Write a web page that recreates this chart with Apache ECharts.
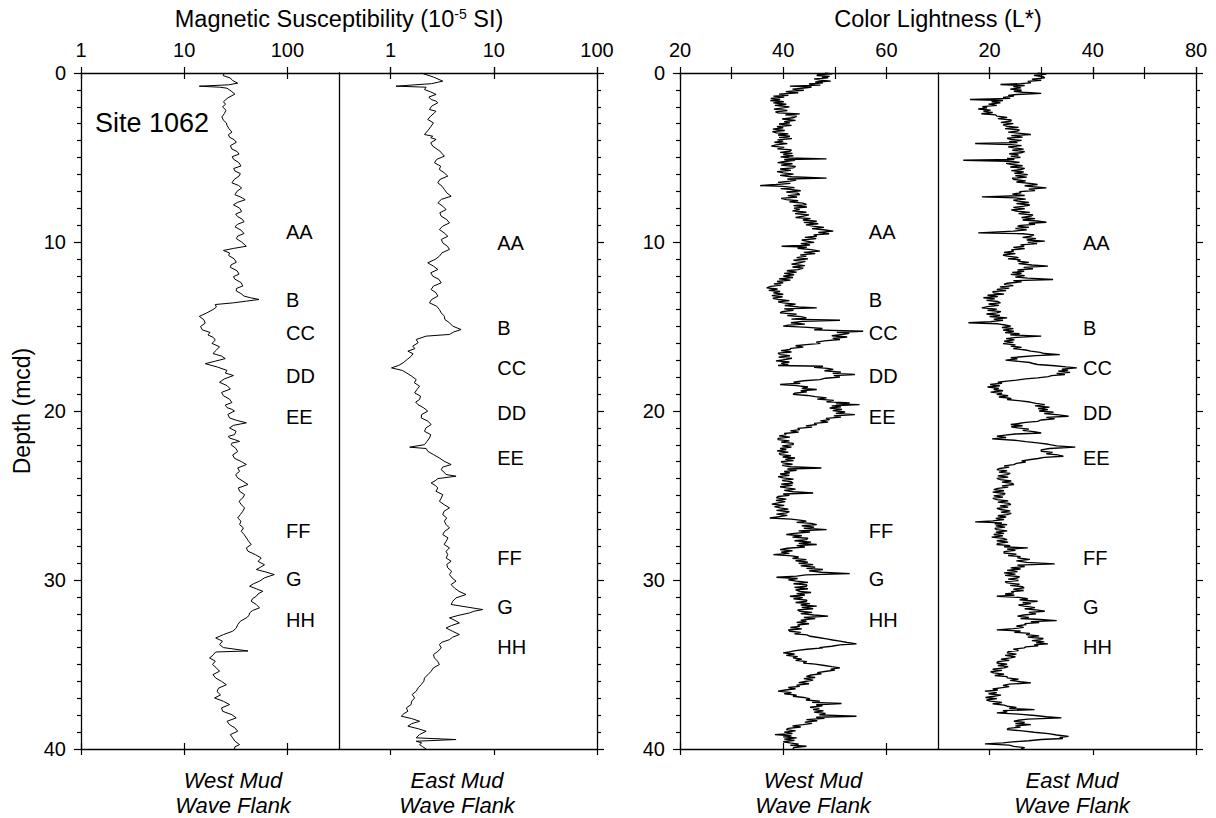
<!DOCTYPE html>
<html>
<head>
<meta charset="utf-8">
<script src="https://cdn.jsdelivr.net/npm/echarts@6/dist/echarts.min.js"></script>
<style>html,body{margin:0;padding:0;background:#fff}#c{width:1216px;height:818px}</style>
</head>
<body>
<div id="c"></div>
<script>
// ---------- data: [depth (mcd), value] ----------
const magWest = [[0,24.6],[0.15,23.8],[0.3,28],[0.45,29.5],[0.6,33],[0.7,27],[0.78,14],[0.84,22],[0.9,26],[1.07,28.5],[1.25,31],[1.47,26.5],[1.7,24],[1.85,25.2],[2.0,23.5],[2.2,25.4],[2.4,24.5],[2.6,23.2],[2.8,24],[2.95,25.6],[3.1,26],[3.3,27.2],[3.5,29],[3.65,26.8],[3.8,27.5],[3.95,30.5],[4.1,32],[4.3,28],[4.5,29],[4.65,32.6],[4.8,34],[4.95,29.2],[5.1,30],[5.3,33.8],[5.5,35.5],[5.65,30.2],[5.8,31],[5.95,35],[6.1,34],[6.3,30.5],[6.5,29],[6.65,33.5],[6.8,36],[7.0,32.5],[7.2,31],[7.35,35.5],[7.5,39],[7.65,33],[7.8,30],[8.0,34.5],[8.2,36],[8.35,31.5],[8.5,33],[8.65,36.5],[8.8,38],[8.95,33],[9.1,31],[9.3,35.5],[9.5,38],[9.65,33],[9.8,32],[10.0,36],[10.25,40],[10.38,30],[10.5,24],[10.65,27.5],[10.8,27],[11.0,30.5],[11.2,32],[11.35,28.5],[11.5,28],[11.7,32.5],[11.9,34],[12.05,30],[12.2,31],[12.4,35.5],[12.6,37],[12.75,32],[12.9,32],[13.05,35.5],[13.2,38],[13.3,44],[13.4,53],[13.5,40],[13.6,30],[13.7,20],[13.85,20.5],[14.0,19],[14.2,16.5],[14.4,14],[14.6,15.5],[14.8,16],[15.0,14.4],[15.2,15],[15.35,17.8],[15.5,17],[15.65,19.2],[15.8,20],[16.0,18.6],[16.2,22],[16.4,20.5],[16.6,19],[16.75,23],[16.9,25],[17.05,20],[17.2,16],[17.4,21],[17.6,26],[17.75,25],[17.9,30],[18.1,24.5],[18.3,22],[18.5,26],[18.7,28],[18.9,23],[19.1,24],[19.3,27.5],[19.5,29],[19.65,25],[19.8,26],[19.9,29],[20.0,30.7],[20.2,26.5],[20.41,27.5],[20.55,32],[20.7,40],[20.85,30],[21.0,27.5],[21.2,31.8],[21.4,30.7],[21.5,26.8],[21.6,27.5],[21.7,31],[21.8,34.4],[21.9,29],[22.0,28.5],[22.2,31.5],[22.4,33],[22.6,29.5],[22.8,30.7],[23.0,36],[23.17,40],[23.37,33],[23.57,34.4],[23.77,31.5],[23.96,33],[24.15,37],[24.35,41.5],[24.55,33.5],[24.75,34.4],[24.95,38.5],[25.14,37],[25.34,34],[25.54,35.7],[25.73,38.5],[25.93,37],[26.13,35],[26.33,33],[26.52,35.5],[26.72,34.4],[26.92,37.5],[27.12,35.7],[27.3,38],[27.51,40],[27.7,42],[27.9,44.6],[28.1,40],[28.3,41.5],[28.5,49],[28.7,55.7],[28.9,52],[29.1,60],[29.24,55],[29.38,50],[29.53,62],[29.68,74.6],[29.87,60],[30.07,53.7],[30.22,47],[30.37,43],[30.52,50],[30.67,57.8],[30.82,52],[30.96,50],[31.1,46],[31.26,44.6],[31.45,50],[31.65,53.7],[31.8,46],[31.95,43],[32.1,42.5],[32.24,40],[32.44,35],[32.64,33],[32.84,32],[33.03,29.5],[33.23,24],[33.43,20.2],[33.62,23.5],[33.82,22],[34.0,24],[34.2,41.5],[34.26,20.2],[34.45,19],[34.61,17.6],[34.8,20],[35.0,18.8],[35.2,20.5],[35.4,22],[35.6,19],[35.8,20.2],[36.0,23],[36.2,25.6],[36.4,21.5],[36.6,20.8],[36.8,22.5],[36.98,19.7],[37.18,24],[37.37,27.5],[37.57,23],[37.77,23.6],[37.97,29],[38.16,31.9],[38.36,26],[38.56,27.5],[38.75,31],[38.95,33],[39.15,28],[39.34,29.5],[39.54,31],[39.74,34.4],[39.87,31],[40.0,30.7]];

const magEast = [[0.0,1.98],[0.24,2.6],[0.48,3.2],[0.63,2.5],[0.78,1.13],[0.84,2.21],[0.98,2.13],[1.12,2.45],[1.27,2.76],[1.42,2.35],[1.57,2.47],[1.66,2.75],[1.76,2.87],[1.96,2.5],[2.16,2.38],[2.26,2.75],[2.36,2.66],[2.55,2.45],[2.75,2.29],[2.95,2.6],[3.15,2.47],[3.4,2.3],[3.64,2.13],[3.74,2.56],[3.83,2.45],[3.93,2.76],[4.13,2.45],[4.33,2.56],[4.62,3.0],[4.92,3.32],[5.11,2.8],[5.31,2.66],[5.51,3.05],[5.71,2.97],[5.9,3.3],[6.1,3.58],[6.3,3.0],[6.5,2.87],[6.7,3.15],[6.89,3.32],[7.09,3.5],[7.29,3.86],[7.48,3.1],[7.68,2.87],[7.88,3.2],[8.08,3.45],[8.27,3.0],[8.47,3.09],[8.67,3.5],[8.87,3.72],[9.06,3.2],[9.26,2.97],[9.46,3.3],[9.66,3.58],[9.85,3.1],[10.05,3.2],[10.25,3.55],[10.44,3.72],[10.64,3.15],[10.84,2.97],[11.03,2.7],[11.23,2.29],[11.43,2.6],[11.63,2.87],[11.82,2.45],[12.02,2.56],[12.22,2.95],[12.42,3.09],[12.61,2.6],[12.81,2.47],[13.0,2.75],[13.2,2.87],[13.4,2.5],[13.6,2.38],[13.8,2.8],[14.0,2.97],[14.2,3.1],[14.39,3.32],[14.58,3.35],[14.78,3.72],[14.98,4.0],[15.18,4.82],[15.32,4.1],[15.47,3.72],[15.57,2.21],[15.77,1.77],[15.96,1.85],[16.16,1.64],[16.31,1.72],[16.46,1.47],[16.61,1.65],[16.76,1.58],[16.95,1.45],[17.15,1.32],[17.3,1.2],[17.45,1.02],[17.6,1.3],[17.74,1.42],[17.94,1.6],[18.14,1.77],[18.33,1.7],[18.53,1.91],[18.73,1.8],[18.93,1.71],[19.12,1.95],[19.32,1.91],[19.47,1.75],[19.62,1.84],[19.82,2.1],[20.01,2.29],[20.21,2.0],[20.41,1.98],[20.6,2.3],[20.8,2.47],[21.0,2.2],[21.2,2.13],[21.4,2.45],[21.6,2.38],[21.8,2.25],[21.99,2.13],[22.14,1.53],[22.22,2.21],[22.38,2.29],[22.58,2.6],[22.78,2.97],[22.97,3.3],[23.17,3.86],[23.32,3.2],[23.47,3.09],[23.62,3.3],[23.76,3.45],[23.86,4.31],[24.0,2.87],[24.13,2.7],[24.26,2.47],[24.4,2.7],[24.55,2.87],[24.75,2.75],[24.95,3.2],[25.15,3.1],[25.34,2.97],[25.54,3.3],[25.73,3.72],[25.93,3.3],[26.13,3.2],[26.33,3.5],[26.52,3.32],[26.72,3.45],[26.92,3.72],[27.11,3.35],[27.31,3.2],[27.51,3.6],[27.71,3.45],[27.9,3.3],[28.1,3.72],[28.3,3.45],[28.5,3.58],[28.7,3.45],[28.89,3.86],[29.08,3.5],[29.28,3.58],[29.48,3.9],[29.68,3.72],[29.88,3.95],[30.07,4.31],[30.27,3.85],[30.47,4.15],[30.67,4.6],[30.86,5.38],[31.06,4.3],[31.26,4.0],[31.45,3.86],[31.6,5.5],[31.75,7.8],[31.85,6.4],[31.95,5.8],[32.1,4.5],[32.24,3.72],[32.39,4.2],[32.54,4.64],[32.69,3.9],[32.84,3.45],[33.04,4.0],[33.23,4.64],[33.38,4.0],[33.53,3.72],[33.68,3.15],[33.82,2.97],[34.02,3.1],[34.22,2.87],[34.42,2.6],[34.61,2.66],[34.8,2.85],[35.0,2.97],[35.2,2.6],[35.4,2.47],[35.6,2.3],[35.79,2.13],[35.99,2.1],[36.19,1.98],[36.38,1.85],[36.58,1.77],[36.78,1.62],[36.98,1.71],[37.17,1.6],[37.37,1.58],[37.57,1.42],[37.77,1.47],[37.9,1.35],[38.06,1.27],[38.2,1.6],[38.36,1.91],[38.5,1.6],[38.65,1.47],[38.8,1.85],[38.95,2.21],[39.15,1.9],[39.34,1.77],[39.44,4.31],[39.54,1.77],[39.64,2.0],[39.74,1.91],[39.87,2.05],[40.0,2.21]];

const colorWest = [[0.00,48.1],[0.05,49.5],[0.10,46.8],[0.15,46.5],[0.20,49.0],[0.25,47.5],[0.29,48.7],[0.35,46.0],[0.42,47.1],[0.48,49.2],[0.53,46.2],[0.58,47.7],[0.65,45.0],[0.72,47.2],[0.78,41.3],[0.83,45.5],[0.88,44.5],[0.95,41.8],[1.02,44.0],[1.10,40.5],[1.17,42.9],[1.25,39.2],[1.32,41.0],[1.37,38.1],[1.43,40.2],[1.50,37.6],[1.57,39.4],[1.63,37.5],[1.70,40.1],[1.77,38.1],[1.85,40.6],[1.92,38.4],[2.00,41.2],[2.06,40],[2.14,38.2],[2.22,40.8],[2.30,38.5],[2.36,39.0],[2.42,43.2],[2.48,40.4],[2.56,42.6],[2.65,41.9],[2.72,39.8],[2.80,42.4],[2.88,40.2],[2.95,41.3],[3.02,39.2],[3.10,41.6],[3.17,38.8],[3.24,40],[3.32,38.0],[3.40,40.3],[3.47,37.9],[3.54,38.7],[3.60,41.0],[3.67,39.0],[3.74,41.3],[3.81,39.2],[3.88,41.7],[3.96,38.9],[4.03,40],[4.10,38.3],[4.18,40.8],[4.25,38.6],[4.33,37.7],[4.40,40.2],[4.48,38.9],[4.55,41.6],[4.63,41.3],[4.70,39.4],[4.76,41.8],[4.82,40],[4.90,42.0],[4.96,39.5],[5.02,41.2],[5.08,48.4],[5.12,40.2],[5.17,42.3],[5.22,40.6],[5.30,38.9],[5.37,41.8],[5.45,39.6],[5.53,42.4],[5.61,41.9],[5.68,39.4],[5.76,41.5],[5.84,38.8],[5.91,40],[5.98,42.0],[6.06,39.4],[6.14,41.6],[6.22,48.4],[6.27,40.8],[6.33,42.5],[6.40,41.3],[6.47,39.0],[6.53,41.4],[6.60,38.6],[6.66,35.5],[6.71,39.9],[6.78,42.2],[6.84,39.5],[6.89,41.3],[6.97,43.4],[7.04,40.6],[7.11,42.8],[7.19,43.2],[7.26,40.9],[7.34,42.7],[7.42,39.6],[7.49,40.6],[7.56,42.9],[7.63,41.2],[7.70,43.8],[7.78,44.5],[7.85,42.0],[7.93,44.6],[8.00,42.1],[8.08,43.2],[8.16,41.8],[8.24,44.5],[8.32,42.3],[8.40,45.0],[8.47,43.9],[8.55,42.4],[8.62,45.3],[8.70,43.8],[8.77,46.5],[8.84,44.0],[8.92,46.8],[8.99,44.4],[9.06,45.8],[9.13,47.9],[9.21,45.6],[9.29,48.2],[9.36,49.7],[9.43,46.8],[9.51,48.9],[9.58,45.9],[9.66,46.5],[9.73,44.2],[9.80,46.4],[9.88,43.6],[9.95,44.5],[10.02,46.0],[10.10,43.4],[10.18,45.2],[10.25,39.7],[10.30,44.6],[10.37,42.8],[10.45,45.4],[10.54,47.1],[10.61,44.0],[10.69,46.2],[10.76,43.3],[10.84,44.5],[10.92,42.6],[11.00,44.8],[11.08,42.0],[11.15,44.3],[11.23,43.2],[11.31,41.6],[11.40,44.2],[11.48,41.8],[11.55,43.9],[11.63,42.9],[11.70,40.7],[11.78,42.6],[11.86,40.2],[11.94,42.1],[12.02,40],[12.10,41.9],[12.18,39.2],[12.26,41.4],[12.34,38.8],[12.42,40],[12.48,38.2],[12.55,39.6],[12.63,37.6],[12.71,36.8],[12.78,38.9],[12.86,37.2],[12.93,39.4],[13.01,38.1],[13.09,40.0],[13.17,37.8],[13.25,39.9],[13.33,38.0],[13.40,39],[13.47,41.2],[13.54,39.0],[13.60,40],[13.68,42.4],[13.76,40.3],[13.84,43.0],[13.90,46.5],[13.96,40.2],[14.04,42.0],[14.12,39.8],[14.19,39.4],[14.27,42.6],[14.35,40.8],[14.42,43.4],[14.49,44.5],[14.56,41.6],[14.63,51],[14.70,43.7],[14.78,41.5],[14.86,44.2],[14.92,41.0],[14.98,40],[15.05,44.8],[15.12,47.6],[15.20,46.0],[15.28,55.5],[15.35,50.4],[15.41,52.8],[15.47,51.6],[15.55,49.4],[15.62,52.4],[15.70,49.6],[15.77,51],[15.85,48.0],[15.92,46.4],[16.00,47.2],[16.07,44.5],[16.14,42.4],[16.22,43.9],[16.29,41.5],[16.36,41.3],[16.43,39.6],[16.51,41.6],[16.58,39.0],[16.66,39.4],[16.73,41.3],[16.81,39.1],[16.88,41.7],[16.95,40.6],[17.03,38.6],[17.10,41.2],[17.18,39.6],[17.25,41.0],[17.31,39],[17.35,47.7],[17.42,46.0],[17.48,48.6],[17.54,49.7],[17.62,48.0],[17.70,51.2],[17.77,49.6],[17.84,53.9],[17.91,49.8],[17.99,51.0],[18.06,48.2],[18.14,47.1],[18.21,44.0],[18.29,42.0],[18.36,43.3],[18.43,39.4],[18.50,42.6],[18.58,44.8],[18.66,43.6],[18.73,46.5],[18.80,43.4],[18.87,44.6],[18.95,42.2],[19.02,41.9],[19.08,44.7],[19.15,46.2],[19.22,48.4],[19.30,46.6],[19.37,49.8],[19.45,48.4],[19.52,52.9],[19.58,50.2],[19.62,54.8],[19.70,49.4],[19.76,51.2],[19.82,49],[19.90,51.4],[19.98,49.6],[20.06,52.0],[20.14,50.2],[20.21,53.9],[20.29,49.8],[20.36,51.2],[20.44,48.3],[20.51,49],[20.58,47.2],[20.66,48.7],[20.73,46.0],[20.80,46.5],[20.88,44.4],[20.95,45.6],[21.03,42.8],[21.10,43.2],[21.18,41.4],[21.25,43.0],[21.33,40.2],[21.40,40.6],[21.47,39.2],[21.55,41.3],[21.62,39.0],[21.69,39],[21.77,41.2],[21.84,39.6],[21.92,42.0],[21.99,41.9],[22.06,39.8],[22.14,41.6],[22.21,39.4],[22.28,40.6],[22.36,38.8],[22.43,41.0],[22.51,39.2],[22.58,39.4],[22.65,41.5],[22.72,39.9],[22.78,42.3],[22.86,40.4],[22.93,42.0],[23.00,39.6],[23.07,40],[23.15,41.8],[23.22,39.8],[23.30,41.4],[23.37,47.4],[23.43,40.8],[23.51,42.6],[23.58,40.2],[23.66,41.3],[23.73,39.4],[23.81,41.2],[23.88,39.0],[23.96,40],[24.03,42.0],[24.11,39.8],[24.18,41.5],[24.26,41.9],[24.33,39.6],[24.40,41.8],[24.48,39.4],[24.55,40.6],[24.62,42.4],[24.70,40.2],[24.78,42.0],[24.85,45.8],[24.91,40.0],[24.99,41.2],[25.06,39.0],[25.14,38.7],[25.21,40.6],[25.29,38.6],[25.36,40.4],[25.44,39],[25.51,37.8],[25.58,40.2],[25.66,38.3],[25.73,39.4],[25.81,41.0],[25.88,38.7],[25.96,41.2],[26.03,40.6],[26.10,38.7],[26.18,40.8],[26.26,38.9],[26.33,37.4],[26.40,41.5],[26.46,43.2],[26.52,44.5],[26.59,42.6],[26.65,45.4],[26.72,46.5],[26.79,43.6],[26.87,46.0],[26.94,44.0],[27.02,48.4],[27.09,43.0],[27.16,45.2],[27.24,42.2],[27.31,40.6],[27.38,43.6],[27.46,41.8],[27.53,44.8],[27.61,44.5],[27.68,42.2],[27.76,45.4],[27.83,43.0],[27.90,46.5],[27.97,42.6],[28.05,44.2],[28.12,40.8],[28.20,39.4],[28.27,41.8],[28.35,39.6],[28.42,41.2],[28.50,38.1],[28.57,41.6],[28.64,43.0],[28.72,41.8],[28.79,44.5],[28.86,42.4],[28.94,44.8],[29.01,43.0],[29.09,45.8],[29.16,43.4],[29.24,46.2],[29.31,44.5],[29.38,47.7],[29.46,45.0],[29.54,47.4],[29.62,52.9],[29.70,44.4],[29.77,42.6],[29.84,38.7],[29.91,42.8],[29.99,41.0],[30.07,42.6],[30.14,44.8],[30.22,42.0],[30.29,44.6],[30.37,44.5],[30.44,42.2],[30.52,44.8],[30.59,42.4],[30.67,43.2],[30.74,45.4],[30.81,42.6],[30.89,44.2],[30.96,41.3],[31.04,43.8],[31.11,42.0],[31.19,44.6],[31.26,44.5],[31.33,42.4],[31.40,45.2],[31.48,43.4],[31.55,46.5],[31.62,43.6],[31.70,45.8],[31.77,42.8],[31.85,43.2],[31.92,45.6],[31.99,43.4],[32.07,46.0],[32.14,48.7],[32.22,44.0],[32.29,46.2],[32.37,43.4],[32.44,44.5],[32.51,42.6],[32.59,45.0],[32.66,42.8],[32.74,43.2],[32.81,41.4],[32.89,43.6],[32.96,41.0],[33.03,41.3],[33.10,43.4],[33.18,42.2],[33.25,44.6],[33.33,45.2],[33.40,46.8],[33.48,48.4],[33.55,49.6],[33.62,51],[33.70,52.4],[33.78,54.2],[33.84,51.0],[33.92,49.4],[34.00,47.0],[34.02,47.7],[34.10,44.6],[34.18,42.4],[34.25,41.2],[34.31,40],[34.38,42.2],[34.46,40.6],[34.53,42.8],[34.61,41.9],[34.68,43.6],[34.76,42.4],[34.83,44.6],[34.91,43.9],[34.98,46.2],[35.06,48.0],[35.13,49.4],[35.20,51],[35.27,49.2],[35.33,50.0],[35.40,48.4],[35.48,46.6],[35.55,47.4],[35.62,45.4],[35.70,44.5],[35.77,46.2],[35.84,44.0],[35.92,45.8],[35.99,44.5],[36.07,43.0],[36.14,45.0],[36.22,42.6],[36.29,43.2],[36.36,41.0],[36.44,42.4],[36.51,40.4],[36.58,39],[36.66,41.6],[36.73,40.2],[36.81,42.6],[36.88,41.9],[36.95,44.0],[37.03,45.2],[37.10,44.4],[37.17,47.1],[37.24,45.6],[37.31,51.3],[37.38,46.4],[37.45,47.6],[37.53,45.2],[37.60,47.0],[37.67,45.8],[37.74,47.8],[37.82,46.0],[37.90,48.2],[37.98,47.0],[38.06,54.2],[38.12,46.4],[38.19,48.0],[38.26,44.5],[38.33,46.6],[38.41,44.2],[38.48,45.6],[38.56,43.9],[38.63,41.8],[38.70,43.4],[38.78,41.0],[38.85,40.6],[38.93,42.4],[39.00,40.2],[39.08,41.8],[39.15,38.4],[39.22,41.6],[39.28,40.0],[39.34,42.6],[39.42,40.2],[39.49,42.2],[39.57,40.0],[39.64,41.3],[39.71,43.0],[39.78,41.4],[39.84,44.5],[39.92,42.0],[40.00,41.9]];

const colorEast = [[0.00,29.3],[0.07,31.0],[0.14,28.6],[0.22,30.4],[0.29,30.7],[0.36,28.2],[0.43,30.0],[0.50,27.4],[0.58,28],[0.63,26.0],[0.68,22.1],[0.74,26.8],[0.81,24.6],[0.88,26.1],[0.95,24.0],[1.02,26.2],[1.08,24.7],[1.14,26.4],[1.21,30],[1.27,25.2],[1.32,23.6],[1.37,24.7],[1.44,22.6],[1.50,24.0],[1.57,16.2],[1.63,22.6],[1.70,20.4],[1.77,22.1],[1.84,19.8],[1.92,21.4],[1.99,18.6],[2.06,19.5],[2.13,17.8],[2.20,20.2],[2.26,18.8],[2.34,20.6],[2.41,18.4],[2.48,21.2],[2.55,21.4],[2.63,23.4],[2.70,21.6],[2.78,24.2],[2.85,24.1],[2.92,22.2],[3.00,24.6],[3.07,22.6],[3.15,23.4],[3.22,25.6],[3.29,23.0],[3.37,25.8],[3.44,25.4],[3.50,23.6],[3.57,26.0],[3.64,28],[3.71,24.2],[3.79,26.4],[3.86,23.4],[3.93,24.1],[3.99,26.2],[4.06,23.8],[4.12,25.4],[4.17,17.2],[4.24,24.2],[4.30,26.2],[4.37,23.6],[4.43,24.7],[4.50,26.6],[4.57,24.4],[4.65,26.8],[4.72,26.1],[4.78,23.8],[4.85,25.6],[4.92,24.1],[4.99,26.0],[5.06,23.4],[5.12,24.8],[5.16,14.9],[5.22,23.6],[5.29,25.8],[5.35,23.2],[5.41,24.1],[5.49,26.4],[5.56,24.0],[5.64,26.8],[5.71,26.1],[5.78,24.2],[5.86,26.6],[5.93,24.8],[6.01,27.4],[6.08,25.0],[6.16,27.2],[6.23,24.4],[6.30,24.7],[6.38,27.0],[6.45,25.2],[6.53,27.8],[6.60,29.3],[6.67,26.8],[6.73,28.4],[6.80,31],[6.87,27.6],[6.95,28.8],[7.02,25.8],[7.09,26.1],[7.17,24.4],[7.25,26.8],[7.33,18.5],[7.39,25.0],[7.46,27.0],[7.52,24.6],[7.58,25.4],[7.66,27.6],[7.73,25.2],[7.81,27.8],[7.88,26.7],[7.95,24.6],[8.03,26.8],[8.10,24.2],[8.18,25.4],[8.25,27.8],[8.32,25.6],[8.40,28.4],[8.47,28],[8.55,26.2],[8.62,28.8],[8.70,26.4],[8.76,29.2],[8.83,31],[8.89,27.6],[8.96,28.8],[9.02,26.0],[9.06,25.4],[9.13,27.6],[9.20,25.0],[9.28,27.2],[9.36,24.6],[9.46,17.8],[9.51,26.4],[9.58,28.6],[9.66,28],[9.73,26.4],[9.80,29.0],[9.88,27.2],[9.95,30.7],[10.02,27.4],[10.10,29.2],[10.17,26.0],[10.25,26.7],[10.32,24.6],[10.39,26.8],[10.47,24.2],[10.54,24.7],[10.62,22.8],[10.69,25.0],[10.77,22.6],[10.84,23.4],[10.92,25.6],[10.99,23.6],[11.06,26.0],[11.13,25.4],[11.21,27.6],[11.28,25.6],[11.36,28.2],[11.43,31.3],[11.50,26.6],[11.58,28.4],[11.65,25.4],[11.73,26.7],[11.80,24.4],[11.86,26.2],[11.92,24.1],[11.99,26.8],[12.07,25.0],[12.14,27.4],[12.22,32.3],[12.29,24.6],[12.36,26.2],[12.44,23.4],[12.51,22.8],[12.58,24.6],[12.66,22.0],[12.73,23.8],[12.81,21.4],[12.88,23.2],[12.94,20.6],[13.01,20.8],[13.08,22.8],[13.15,19.6],[13.23,21.6],[13.30,18.8],[13.37,21.0],[13.45,19.4],[13.52,21.6],[13.60,22.1],[13.67,19.8],[13.75,21.8],[13.82,19.6],[13.90,18.5],[13.97,21.4],[14.04,19.6],[14.12,22.2],[14.19,21.4],[14.26,19.4],[14.34,22.0],[14.41,20.0],[14.49,23.4],[14.56,20.8],[14.63,22.6],[14.71,20.2],[14.78,15.9],[14.84,21.6],[14.91,23.0],[14.98,24.1],[15.06,22.4],[15.13,24.6],[15.21,22.6],[15.28,24.7],[15.36,23.0],[15.43,25.8],[15.50,24.0],[15.57,30],[15.64,25.2],[15.72,23.2],[15.79,24.8],[15.87,22.8],[15.94,24.6],[16.01,22.6],[16.09,25.0],[16.16,24.1],[16.24,26.2],[16.31,24.6],[16.39,27.0],[16.46,28],[16.53,29.8],[16.60,30.6],[16.66,33.6],[16.72,29.0],[16.79,26.2],[16.85,24.1],[16.92,25.4],[16.99,23.1],[17.06,25.6],[17.13,27.8],[17.19,28.4],[17.25,29.3],[17.32,32.6],[17.39,34.8],[17.45,36.9],[17.52,34.0],[17.58,35.2],[17.64,33.3],[17.71,35.6],[17.77,33.0],[17.84,34.6],[17.91,32.0],[17.97,31.4],[18.04,29.3],[18.10,27.0],[18.17,25.2],[18.23,23.4],[18.30,21.6],[18.36,22.4],[18.43,20.1],[18.51,22.0],[18.58,19.6],[18.66,21.8],[18.73,20.8],[18.80,22.6],[18.88,20.2],[18.95,22.4],[19.02,21.4],[19.10,23.6],[19.17,21.8],[19.25,24.2],[19.32,23.4],[19.40,26.0],[19.47,27.8],[19.55,29.0],[19.62,30.7],[19.70,28.8],[19.77,31.6],[19.85,29.4],[19.92,31.3],[20.00,29.6],[20.07,32.4],[20.15,30.6],[20.23,33.4],[20.31,35.3],[20.38,31.0],[20.46,32.6],[20.53,30.0],[20.61,29.3],[20.67,27.0],[20.74,25.6],[20.80,24.1],[20.87,26.4],[20.93,24.2],[21.00,25.4],[21.07,27.6],[21.15,26.4],[21.22,28.6],[21.30,30],[21.36,25.0],[21.43,23.0],[21.49,21.4],[21.57,23.2],[21.65,20.5],[21.73,24.8],[21.81,27.0],[21.89,29.3],[21.97,31.4],[22.06,33.0],[22.14,36.6],[22.22,31.6],[22.30,30.0],[22.38,30],[22.45,32.2],[22.53,31.0],[22.60,33.2],[22.68,34.3],[22.74,30.6],[22.81,29.4],[22.87,28],[22.95,26.2],[23.02,27.0],[23.10,25.2],[23.17,24.7],[23.25,22.8],[23.32,23.8],[23.40,22.0],[23.47,21.4],[23.54,23.4],[23.62,21.8],[23.69,24.0],[23.76,23.4],[23.84,21.6],[23.91,23.6],[23.99,21.4],[24.06,22.1],[24.14,24.2],[24.21,22.4],[24.28,24.4],[24.35,24.7],[24.43,22.4],[24.50,23.6],[24.58,21.6],[24.65,20.8],[24.72,22.8],[24.80,20.6],[24.88,23.0],[24.95,22.8],[25.02,20.8],[25.10,22.6],[25.17,20.6],[25.24,21.4],[25.32,23.6],[25.39,21.6],[25.47,23.8],[25.54,24.1],[25.61,22.0],[25.69,23.6],[25.76,21.4],[25.83,22.1],[25.91,24.0],[25.98,22.2],[26.06,24.2],[26.13,23.4],[26.20,21.6],[26.27,23.2],[26.35,21.2],[26.42,22.8],[26.50,20.6],[26.56,17.2],[26.62,22.4],[26.67,21.0],[26.72,23.4],[26.80,21.2],[26.87,23.0],[26.95,21.0],[27.02,21.4],[27.09,23.4],[27.17,21.2],[27.24,22.8],[27.31,20.8],[27.39,22.6],[27.46,20.4],[27.54,22.6],[27.61,23.4],[27.68,21.4],[27.76,23.6],[27.83,21.6],[27.90,21.4],[27.97,24.0],[28.04,22.8],[28.10,27.4],[28.17,23.4],[28.25,25.0],[28.32,22.8],[28.40,22.8],[28.47,25.2],[28.55,23.6],[28.62,26.0],[28.69,25.4],[28.78,27.8],[28.87,25.2],[28.96,27.2],[29.05,32.6],[29.12,25.4],[29.20,26.8],[29.28,24.1],[29.35,26.0],[29.43,23.4],[29.50,25.4],[29.58,22.8],[29.65,25.0],[29.73,23.0],[29.80,25.8],[29.88,25.4],[29.95,23.6],[30.03,25.6],[30.10,23.0],[30.17,23.4],[30.25,25.8],[30.32,24.0],[30.40,26.4],[30.47,26.7],[30.54,24.6],[30.62,26.6],[30.69,24.2],[30.76,24.7],[30.83,23.0],[30.90,24.8],[30.96,21.4],[31.03,25.6],[31.11,27.4],[31.18,25.8],[31.26,29.3],[31.33,26.4],[31.40,28.0],[31.48,25.6],[31.55,26.7],[31.63,28.8],[31.70,26.8],[31.78,29.4],[31.85,30.7],[31.92,27.6],[32.00,29.0],[32.07,26.6],[32.14,25.4],[32.21,27.6],[32.28,26.0],[32.34,29.8],[32.40,33],[32.46,28.0],[32.52,29.6],[32.58,26.8],[32.64,27.1],[32.72,25.2],[32.80,26.6],[32.88,24.6],[32.95,21.4],[33.02,26.0],[33.09,24.8],[33.16,27.8],[33.23,27.1],[33.31,29.6],[33.38,27.4],[33.46,30.4],[33.53,30],[33.59,28.2],[33.66,30.6],[33.72,29.0],[33.78,31.3],[33.84,28.6],[33.90,29.4],[33.96,27.0],[34.02,26.7],[34.09,24.6],[34.17,25.6],[34.24,23.6],[34.31,23.4],[34.39,25.2],[34.46,23.0],[34.54,25.0],[34.61,24.1],[34.68,22.2],[34.76,23.8],[34.83,21.6],[34.91,21.4],[34.98,23.4],[35.06,21.6],[35.13,23.6],[35.20,22.8],[35.28,20.6],[35.35,22.4],[35.43,20.2],[35.50,20.8],[35.57,22.8],[35.65,21.0],[35.72,23.4],[35.79,23.4],[35.87,25.6],[35.94,24.0],[36.02,26.0],[36.09,28],[36.16,23.8],[36.24,22.6],[36.31,23.8],[36.38,22.1],[36.45,20.6],[36.51,21.6],[36.58,19.1],[36.66,21.4],[36.73,19.8],[36.81,22.2],[36.88,20.8],[36.95,19.2],[37.02,21.4],[37.10,19.4],[37.17,20.1],[37.25,22.4],[37.32,20.6],[37.40,22.8],[37.47,23.4],[37.54,25.2],[37.60,23.8],[37.67,28.7],[37.73,22.6],[37.80,23.4],[37.86,21.4],[37.94,25.6],[38.02,28.8],[38.09,31.0],[38.16,33.9],[38.23,27.4],[38.30,25.6],[38.36,24.7],[38.43,26.8],[38.50,25.0],[38.56,28],[38.63,25.0],[38.71,26.0],[38.78,23.6],[38.85,23.4],[38.93,26.4],[39.01,28.6],[39.09,31.4],[39.17,33.0],[39.25,35.3],[39.31,33.6],[39.38,34.2],[39.44,30],[39.51,27.6],[39.58,24.4],[39.64,22.6],[39.70,19.1],[39.77,23.8],[39.84,24.7],[39.92,26.8],[40.00,26.1]];

// ---------- ticks and labels ----------
const magTicks = [1, 10, 100];
const magTickLabels = ['1', '10', '100'];
const colorWestTopTicks = [20, 30, 40, 50, 60];
const colorWestBottomTicks = [20, 40, 60];
const colorWestLabelValues = [20, 40, 60];
const colorWestLabels = ['20', '40', '60'];
const colorEastTopTicks = [20, 30, 40, 50, 60];
const colorEastBottomTicks = [20, 40, 60];
const colorEastLabelValues = [20, 40, 60];
const colorEastLabels = ['20', '40', '80'];
const zoneNames = ['AA', 'B', 'CC', 'DD', 'EE', 'FF', 'G', 'HH'];
const westZoneDepth = [9.41, 13.43, 15.38, 17.93, 20.36, 27.1, 29.94, 32.37];
const eastZoneDepth = [10.08, 15.1, 17.43, 20.1, 22.8, 28.7, 31.6, 33.95];

// ---------- chart ----------
const INK = '#000';
const FONT = '"Liberation Sans", Arial, Helvetica, sans-serif';
const axisLine = {show: true, onZero: false, lineStyle: {color: INK, width: 1.3}};
const tickLine = {color: INK, width: 1.2};

const GRIDS = [
  {left: 81, width: 258}, {left: 339, width: 258},
  {left: 680, width: 258}, {left: 938, width: 258}
];
const grid = GRIDS.map(g => ({left: g.left, width: g.width, top: 73, height: 676, show: false}));

const xScales = [
  {type: 'log', min: 1, max: 316.2278, top: magTicks, bottom: magTicks, labelValues: magTicks, labels: magTickLabels},
  {type: 'log', min: 0.3162278, max: 100, top: magTicks, bottom: magTicks, labelValues: magTicks, labels: magTickLabels},
  {type: 'value', min: 20, max: 70, top: colorWestTopTicks, bottom: colorWestBottomTicks, labelValues: colorWestLabelValues, labels: colorWestLabels},
  {type: 'value', min: 10, max: 60, top: colorEastTopTicks, bottom: colorEastBottomTicks, labelValues: colorEastLabelValues, labels: colorEastLabels}
];

const xAxis = [];
xScales.forEach((s, gi) => {
  const base = {gridIndex: gi, type: s.type, min: s.min, max: s.max,
    splitLine: {show: false}, minorTick: {show: false}, minorSplitLine: {show: false}};
  if (s.type === 'log') base.logBase = 10;
  const fmt = v => {
    const i = s.labelValues.findIndex(t => Math.abs(t - v) < 1e-6 * Math.max(1, Math.abs(t)));
    return i >= 0 ? s.labels[i] : '';
  };
  ['top', 'bottom'].forEach(pos => {
    const ticks = s[pos];
    xAxis.push(Object.assign({}, base, {
      position: pos, axisLine: axisLine,
      axisTick: {show: true, inside: false, length: 6, customValues: ticks, lineStyle: tickLine},
      axisLabel: pos === 'top'
        ? {show: true, customValues: s.labelValues, formatter: fmt, color: INK, fontSize: 20, fontFamily: FONT, margin: 13}
        : {show: false}
    }));
    xAxis.push(Object.assign({}, base, {
      position: pos, axisLine: {show: false},
      axisTick: {show: true, inside: true, length: 6, customValues: ticks, lineStyle: tickLine},
      axisLabel: {show: false}
    }));
  });
});

const yBase = {type: 'value', inverse: true, min: 0, max: 40, interval: 10,
  splitLine: {show: false}, minorSplitLine: {show: false}};
function yTicks(gi, pos, labels) {
  return Object.assign({}, yBase, {
    gridIndex: gi, position: pos, axisLine: axisLine,
    axisTick: {show: true, inside: false, length: 7, lineStyle: tickLine},
    minorTick: {show: true, splitNumber: 10, length: 4, lineStyle: tickLine},
    axisLabel: labels ? {show: true, color: INK, fontSize: 20, fontFamily: FONT, margin: 15} : {show: false}
  });
}
function yPlain(gi, pos) {
  return Object.assign({}, yBase, {
    gridIndex: gi, position: pos, axisLine: axisLine,
    axisTick: {show: false}, minorTick: {show: false}, axisLabel: {show: false}
  });
}
const yAxis = [
  yTicks(0, 'left', true),
  yPlain(1, 'left'), yTicks(1, 'right', false),
  yTicks(2, 'left', true),
  yPlain(3, 'left'), yTicks(3, 'right', false)
];

function curve(gi, yi, pairs, w) {
  return {type: 'line', xAxisIndex: gi * 4, yAxisIndex: yi,
    data: pairs.map(p => [p[1], p[0]]), symbol: 'none', showSymbol: false,
    lineStyle: {color: INK, width: w}, silent: true, animation: false, clip: true};
}
function zones(gi, yi, xPos, depths) {
  return {type: 'scatter', xAxisIndex: gi * 4, yAxisIndex: yi, symbol: 'circle', symbolSize: 0,
    itemStyle: {color: INK, opacity: 1},
    data: zoneNames.map((n, i) => ({name: n, value: [xPos, depths[i]]})),
    label: {show: true, position: 'right', distance: 0, formatter: '{b}', color: INK, opacity: 1,
      fontSize: 20, fontFamily: FONT, textBorderWidth: 0},
    silent: true, animation: false};
}

const series = [
  curve(0, 0, magWest, 1), curve(1, 1, magEast, 1), curve(2, 3, colorWest, 1.35), curve(3, 4, colorEast, 1.35),
  zones(0, 0, 96.9, westZoneDepth), zones(1, 1, 10.8, eastZoneDepth),
  zones(2, 3, 56.6, westZoneDepth), zones(3, 4, 38.1, eastZoneDepth)
];

function txt(x, y, text, size, extra) {
  return Object.assign({type: 'text', x: x, y: y, silent: true,
    style: Object.assign({text: text, fill: INK, fontSize: size, fontFamily: FONT, align: 'center', verticalAlign: 'middle'}, extra || {})});
}
const bottomStyle = {fontStyle: 'italic', lineHeight: 25};
const graphic = [
  {type: 'text', x: 339, y: 19, silent: true, style: {
    text: '{t|Magnetic Susceptibility (10}{s|-5}{t| SI)}', align: 'center', verticalAlign: 'middle',
    rich: {t: {fontSize: 23.5, fontFamily: FONT, fill: INK}, s: {fontSize: 14, fontFamily: FONT, fill: INK, verticalAlign: 'top'}}}},
  txt(938, 19, 'Color Lightness (L*)', 23.5),
  txt(95, 123, 'Site 1062', 27, {align: 'left'}),
  Object.assign(txt(0, 0, 'Depth (mcd)', 23), {x: 22, y: 411, rotation: Math.PI / 2}),
  txt(233, 792.5, 'West Mud\nWave Flank', 22, bottomStyle),
  txt(457, 792.5, 'East Mud\nWave Flank', 22, bottomStyle),
  txt(813, 792.5, 'West Mud\nWave Flank', 22, bottomStyle),
  txt(1072, 792.5, 'East Mud\nWave Flank', 22, bottomStyle)
];

const chart = echarts.init(document.getElementById('c'), null, {renderer: 'svg', width: 1216, height: 818});
chart.setOption({
  animation: false,
  backgroundColor: '#fff',
  textStyle: {fontFamily: FONT},
  grid: grid,
  xAxis: xAxis,
  yAxis: yAxis,
  series: series,
  graphic: graphic
});
</script>
</body>
</html>
